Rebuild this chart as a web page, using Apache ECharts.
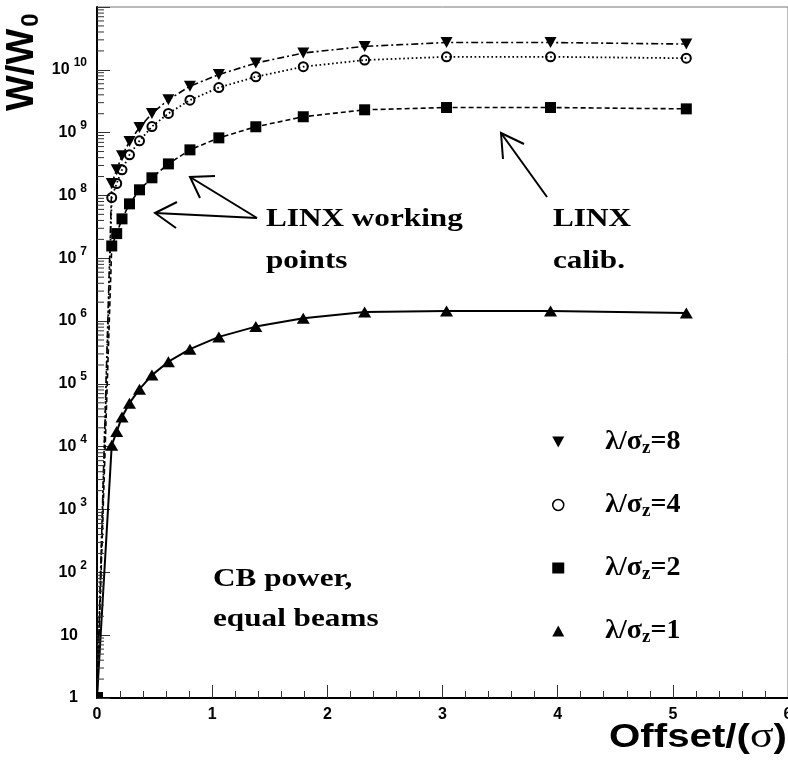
<!DOCTYPE html>
<html>
<head>
<meta charset="utf-8">
<script src="https://cdn.jsdelivr.net/npm/echarts@6/dist/echarts.min.js"></script>
<style>
html,body{margin:0;padding:0;background:#fff;overflow:hidden;}
#chart{width:788px;height:772px;}
</style>
</head>
<body>
<div id="chart"></div>
<script>
// ---- data ----
const offsets = [0, 0.128, 0.171, 0.217, 0.282, 0.369, 0.477, 0.620, 0.807, 1.058, 1.379, 1.791, 2.324, 3.035, 3.938, 5.117];
const ratio8 = [1, 1.55e8, 2.56e8, 4.27e8, 7.22e8, 1.21e9, 2.02e9, 3.33e9, 5.5e9, 8.4e9, 1.28e10, 1.85e10, 2.36e10, 2.72e10, 2.72e10, 2.57e10];
const ratio4 = [1, 9.26e7, 1.55e8, 2.56e8, 4.43e8, 7.4e8, 1.25e9, 2.02e9, 3.29e9, 5.22e9, 7.74e9, 1.12e10, 1.43e10, 1.61e10, 1.61e10, 1.53e10];
const ratio2 = [1, 1.57e7, 2.47e7, 4.24e7, 7.35e7, 1.23e8, 1.91e8, 3.18e8, 5.32e8, 8.26e8, 1.24e9, 1.79e9, 2.31e9, 2.51e9, 2.51e9, 2.39e9];
const ratio1 = [1, 1.06e4, 1.74e4, 2.98e4, 4.93e4, 8.24e4, 1.38e5, 2.26e5, 3.57e5, 5.6e5, 8.17e5, 1.11e6, 1.40e6, 1.45e6, 1.45e6, 1.35e6];
const seriesNames = ['λ/σz=8', 'λ/σz=4', 'λ/σz=2', 'λ/σz=1'];
const xTickLabels = ['0', '1', '2', '3', '4', '5', '6'];
const minorMultipliers = [2, 3, 4, 5, 6, 7, 8, 9];
const decades = [1, 10, 1e2, 1e3, 1e4, 1e5, 1e6, 1e7, 1e8, 1e9, 1e10];

const minorTickData = [];
decades.forEach(d => minorMultipliers.forEach(m => minorTickData.push([0, d * m])));

function pts(ys, originStyle) {
  return offsets.map((x, i) => {
    if (i === 0) return Object.assign({ value: [x, ys[i]] }, originStyle);
    return [x, ys[i]];
  });
}

const downTri = 'path://M0,0L10,0L5,9Z';
const SANS = '"Liberation Sans", Arial, sans-serif';
const SERIF = '"Liberation Serif", "Times New Roman", serif';
const annFont = 'bold 26px ' + SERIF;
const annScale = 1.2;

const chart = echarts.init(document.getElementById('chart'), null, { renderer: 'canvas' });

function annText(x, y, t) {
  return { type: 'text', x: x, y: y, scaleX: annScale, style: { text: t, font: annFont, fill: '#000', verticalAlign: 'middle' } };
}

const option = {
  animation: false,
  backgroundColor: '#fff',
  grid: { left: 97, right: 0, top: 7, bottom: 74, show: true, borderColor: '#777', borderWidth: 1, containLabel: false, outerBoundsMode: 'none' },
  xAxis: {
    type: 'value', min: 0, max: 6, interval: 1,
    axisLine: { show: true, onZero: false, lineStyle: { color: '#000', width: 2 } },
    axisTick: { show: true, inside: true, length: 13, lineStyle: { color: '#333', width: 1 } },
    minorTick: { show: true, splitNumber: 5, length: 7, lineStyle: { color: '#333', width: 1 } },
    splitLine: { show: false },
    axisLabel: {
      margin: 9, color: '#000', fontFamily: SANS, fontWeight: 'bold', fontSize: 16,
      formatter: v => xTickLabels[Math.round(v)] ?? ''
    }
  },
  yAxis: {
    type: 'log', logBase: 10, min: 1, max: 1e11, interval: 1,
    axisLine: { show: true, lineStyle: { color: '#000', width: 2 } },
    axisTick: { show: true, inside: true, length: 13, lineStyle: { color: '#333', width: 1 } },
    splitLine: { show: false },
    axisLabel: {
      margin: 10, color: '#000', fontFamily: SANS, fontWeight: 'bold', fontSize: 16,
      formatter: v => {
        const e = Math.round(Math.log10(v));
        if (e >= 11) return '';
        if (e === 0) return '{b|1}{p|}';
        if (e === 1) return '{b|10}{p|}';
        return '{b|10}{s|' + e + '}';
      },
      rich: {
        b: { fontFamily: SANS, fontWeight: 'bold', fontSize: 16, color: '#000' },
        s: { fontFamily: SANS, fontWeight: 'bold', fontSize: 12, color: '#000', padding: [0, 0, 14, 4] },
        p: { width: 9 }
      }
    }
  },
  legend: {
    orient: 'vertical', left: 547, top: 423, itemGap: 33, itemWidth: 12, itemHeight: 11,
    selectedMode: false,
    data: [
      { name: seriesNames[0], icon: downTri, itemStyle: { color: '#000', borderWidth: 0 } },
      { name: seriesNames[1], icon: 'circle', itemStyle: { color: 'rgba(0,0,0,0)', borderColor: '#000', borderWidth: 1.5 } },
      { name: seriesNames[2], icon: 'rect', itemStyle: { color: '#000', borderWidth: 0 } },
      { name: seriesNames[3], icon: 'triangle', itemStyle: { color: '#000', borderWidth: 0 } }
    ],
    formatter: n => '{a|λ/σ}{z|z}{a|=' + n.split('=')[1] + '}',
    textStyle: {
      padding: [0, 0, 0, 36],
      rich: {
        a: { fontFamily: SERIF, fontWeight: 'bold', fontSize: 28, lineHeight: 28, color: '#000' },
        z: { fontFamily: SERIF, fontWeight: 'bold', fontSize: 19, color: '#000', padding: [13, 0, 0, 0] }
      }
    }
  },
  series: [
    {
      name: seriesNames[0], type: 'line', data: pts(ratio8, { symbol: 'none' }),
      symbol: downTri, symbolSize: [12, 11], z: 5,
      itemStyle: { color: '#000' },
      lineStyle: { color: '#000', width: 1.6, type: [7, 3, 2, 3] },
      emphasis: { disabled: true }
    },
    {
      name: seriesNames[1], type: 'line', data: pts(ratio4, { symbol: 'none' }),
      symbol: 'circle', symbolSize: 9, z: 4,
      itemStyle: { color: 'rgba(0,0,0,0)', borderColor: '#000', borderWidth: 2 },
      lineStyle: { color: '#000', width: 1.8, type: [1.6, 2.6] },
      emphasis: { disabled: true }
    },
    {
      name: seriesNames[2], type: 'line', data: pts(ratio2, { symbolSize: 6, symbolOffset: [3, -3] }),
      symbol: 'rect', symbolSize: 11, z: 3,
      itemStyle: { color: '#000' },
      lineStyle: { color: '#000', width: 1.6, type: [5, 3] },
      emphasis: { disabled: true }
    },
    {
      name: seriesNames[3], type: 'line', data: pts(ratio1, { symbol: 'none' }),
      symbol: 'triangle', symbolSize: [13, 11], z: 3,
      itemStyle: { color: '#000' },
      lineStyle: { color: '#000', width: 2, type: 'solid' },
      emphasis: { disabled: true }
    },
    {
      name: 'minorTicksY', type: 'custom', data: minorTickData, silent: true, z: 6, clip: false,
      encode: { x: 0, y: 1 },
      renderItem: (params, api) => {
        const p = api.coord([api.value(0), api.value(1)]);
        return { type: 'line', shape: { x1: p[0], y1: p[1], x2: p[0] + 7, y2: p[1] }, style: { stroke: '#333', lineWidth: 1 } };
      }
    }
  ],
  graphic: [
    // axis titles
    {
      type: 'text', x: 43, y: 111, rotation: Math.PI / 2,
      style: {
        text: '{a|W/W}{b|0}', align: 'left', verticalAlign: 'bottom',
        rich: {
          a: { fontFamily: SANS, fontWeight: 'bold', fontSize: 38, fill: '#000' },
          b: { fontFamily: SANS, fontWeight: 'bold', fontSize: 24, fill: '#000', padding: [16, 0, 0, 2] }
        }
      }
    },
    {
      type: 'text', x: 787, y: 738, scaleX: 1.22, originX: 0,
      style: {
        text: '{a|Offset/(}{g|σ}{a|)}', align: 'right', verticalAlign: 'middle',
        rich: {
          a: { fontFamily: SANS, fontWeight: 'bold', fontSize: 33, fill: '#000' },
          g: { fontFamily: SERIF, fontSize: 36, fill: '#000' }
        }
      }
    },
    // annotations
    annText(266, 219, 'LINX working'),
    annText(266, 261, 'points'),
    annText(553, 219, 'LINX'),
    annText(553, 261, 'calib.'),
    annText(213, 579, 'CB power,'),
    annText(213, 619, 'equal beams'),
    // arrows
    { type: 'polyline', shape: { points: [[257, 218], [155, 213]] }, style: { stroke: '#000', lineWidth: 2, fill: null } },
    { type: 'polyline', shape: { points: [[177, 202], [155, 213], [176, 228]] }, style: { stroke: '#000', lineWidth: 2, fill: null } },
    { type: 'polyline', shape: { points: [[257, 218], [190, 177]] }, style: { stroke: '#000', lineWidth: 2, fill: null } },
    { type: 'polyline', shape: { points: [[215, 176], [190, 177], [200, 198]] }, style: { stroke: '#000', lineWidth: 2, fill: null } },
    { type: 'polyline', shape: { points: [[547, 197], [501, 133]] }, style: { stroke: '#000', lineWidth: 2, fill: null } },
    { type: 'polyline', shape: { points: [[524, 144], [501, 133], [503, 159]] }, style: { stroke: '#000', lineWidth: 2, fill: null } }
  ]
};
chart.setOption(option);
</script>
</body>
</html>
